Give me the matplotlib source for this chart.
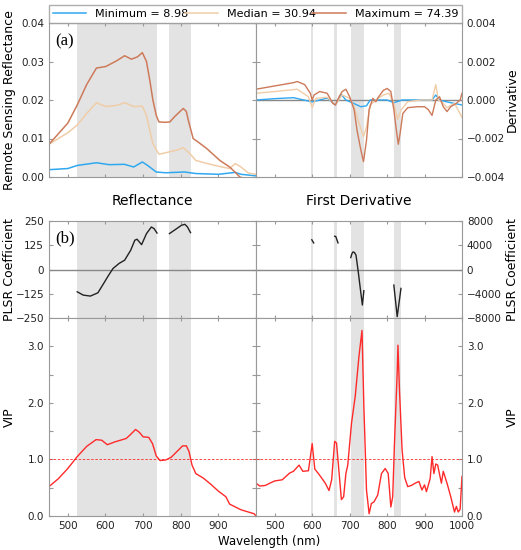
import numpy as np
import matplotlib
matplotlib.use("Agg")
import matplotlib.pyplot as plt

matplotlib.rcParams.update({
    "font.family": "DejaVu Sans",
    "font.size": 8,
    "axes.edgecolor": "#999999",
    "xtick.color": "#999999",
    "ytick.color": "#999999",
    "xtick.labelcolor": "#222222",
    "ytick.labelcolor": "#222222",
    "xtick.labelsize": 7.5,
    "ytick.labelsize": 7.5,
    "xtick.direction": "in",
    "ytick.direction": "in",
})

# ---------------------------------------------------------------------------
# Data
# ---------------------------------------------------------------------------
refl_wl = [450, 500, 525, 550, 576, 601, 630, 651, 669, 685, 698, 709, 718, 726, 735,
           742, 760, 771, 784, 800, 807, 815, 820, 833, 850, 869, 904, 930, 945,
           957, 975, 1000]
refl_max = [0.0085, 0.0140, 0.0187, 0.0240, 0.0283, 0.0287, 0.0302, 0.0315, 0.0306,
            0.0312, 0.0323, 0.0300, 0.0250, 0.0200, 0.0160, 0.0143, 0.0142, 0.0143,
            0.0157, 0.0172, 0.0178, 0.0170, 0.0148, 0.0100, 0.0088, 0.0074, 0.0043,
            0.0026, 0.0012, 0.0000, -0.0005, -0.0008]
refl_wl_med = [450, 500, 525, 550, 576, 601, 630, 651, 675, 698, 709, 718, 726, 742,
               760, 790, 807, 825, 840, 870, 900, 930, 945, 960, 980, 1000]
refl_med = [0.0085, 0.0115, 0.0135, 0.0165, 0.0193, 0.0183, 0.0186, 0.0193, 0.0183,
            0.0184, 0.0160, 0.0120, 0.0087, 0.0059, 0.0063, 0.0070, 0.0076, 0.0060,
            0.0043, 0.0035, 0.0028, 0.0022, 0.0035, 0.0026, 0.0010, 0.0007]
refl_wl_min = [450, 500, 525, 576, 610, 650, 675, 698, 712, 735, 760, 810, 840, 900,
               945, 960, 1000]
refl_min = [0.0019, 0.0022, 0.0030, 0.0037, 0.0032, 0.0033, 0.0026, 0.0039, 0.0030,
            0.0013, 0.0011, 0.0013, 0.0009, 0.0007, 0.0012, 0.0007, 0.0003]

deriv_wl = [450, 500, 550, 560, 580, 595, 600, 605, 620, 640, 655, 662, 672, 680, 690,
            700, 712, 720, 730, 737, 745, 752, 762, 770, 775, 790, 800, 810, 818, 825,
            830, 835, 842, 855, 880, 900, 910, 920, 930, 940, 950, 960, 970, 985, 995,
            1000]
deriv_max = [0.00056, 0.00073, 0.00090, 0.00096, 0.00080, 0.00035, 0.0, 0.00026,
             0.00044, 0.00035, -0.00017, -0.00026, 0.00017, 0.00044, 0.00056, 0.00017,
             -0.0005, -0.0016, -0.0026, -0.0032, -0.0021, -0.0005, 0.00009, -0.0001,
             0.00010, 0.0005, 0.0006, 0.00044, -0.0005, -0.0016, -0.0023, -0.0017,
             -0.0007, -0.0004, -0.00035, -0.00035, -0.0005, -0.0008, 0.0, 0.00017,
             -0.00035, -0.0006, -0.00035, -0.00017, 0.0, 0.00035]
deriv_wl_med = [450, 500, 560, 590, 600, 610, 640, 662, 680, 700, 712, 725, 737, 745,
                755, 770, 790, 805, 818, 828, 838, 855, 890, 920, 930, 937, 950, 960,
                980, 1000]
deriv_med = [0.00035, 0.00044, 0.00056, 0.00017, -0.0004, 0.00009, 0.00014, -0.00026,
             0.00026, 0.00009, -0.00035, -0.0012, -0.0019, -0.0014, -0.00026, 0.0,
             0.00026, 0.00035, -0.00017, -0.0010, -0.0005, -0.00009, 0.0, 0.0, 0.0008,
             0.0, -0.00017, -0.0004, -0.00017, -0.0009]
deriv_wl_min = [450, 500, 550, 600, 640, 662, 677, 690, 710, 730, 745, 755, 800, 818,
                840, 920, 930, 940, 960, 1000]
deriv_min = [0.0, 0.00007, 0.00012, -0.0001, 0.0001, -0.00026, 0.0003, 0.0, -0.00017,
             -0.00035, -0.0003, 0.0, 0.0, -0.00014, 0.0, 0.0, 0.00026, 0.0, -0.0001,
             -0.00026]

plsr_refl_wl1 = [525, 541, 560, 580, 598, 607, 620, 636, 651, 667, 678, 684, 696, 709,
                 722, 729, 737]
plsr_refl_1 = [-115, -132, -137, -120, -63, -34, 5, 31, 48, 99, 151, 156, 128, 185,
               219, 211, 188]
plsr_refl_wl2 = [770, 785, 802, 811, 818, 826]
plsr_refl_2 = [185, 205, 228, 233, 219, 190]

plsr_der_segs = [
    ([599, 602, 604], [4900, 4600, 4380]),
    ([660, 663, 666, 669], [5480, 5450, 4900, 4380]),
    ([703, 706, 709, 713, 717, 723, 729, 734, 738], [1970, 2600, 2900, 2800, 2360,
                                                      -380, -3400, -5860, -3500]),
    ([818, 827, 837], [-2570, -7780, -3120]),
]

vip_refl_wl = [450, 475, 500, 525, 550, 575, 590, 605, 625, 655, 665, 680, 690, 700,
               715, 725, 735, 745, 760, 775, 790, 805, 815, 822, 830, 840, 860, 880,
               900, 920, 930, 945, 960, 980, 995, 1000]
vip_refl = [0.52, 0.66, 0.84, 1.05, 1.23, 1.35, 1.34, 1.26, 1.31, 1.37, 1.43, 1.53,
            1.48, 1.40, 1.39, 1.28, 1.06, 0.98, 0.99, 1.04, 1.14, 1.24, 1.24, 1.14,
            0.90, 0.75, 0.67, 0.56, 0.44, 0.34, 0.21, 0.16, 0.11, 0.07, 0.04, 0.0]

vip_der_wl = [450, 460, 475, 490, 500, 520, 540, 550, 565, 575, 590, 600, 607, 620,
              635, 645, 652, 660, 665, 672, 678, 684, 690, 695, 705, 715, 725, 733,
              738, 745, 752, 758, 765, 775, 785, 795, 803, 810, 815, 820, 827, 829,
              833, 840, 847, 855, 865, 875, 885, 893, 900, 905, 915, 920, 925, 930,
              935, 945, 950, 960, 970, 980, 985, 990, 995, 1000]
vip_der = [0.58, 0.53, 0.54, 0.59, 0.62, 0.64, 0.76, 0.79, 0.90, 0.79, 0.80, 1.28,
           0.83, 0.72, 0.58, 0.45, 0.64, 1.32, 1.29, 0.75, 0.29, 0.34, 0.75, 0.90,
           1.64, 2.12, 2.83, 3.28, 1.94, 0.46, 0.04, 0.22, 0.25, 0.37, 0.75, 0.84,
           0.75, 0.16, 0.34, 1.34, 2.54, 3.02, 2.24, 1.17, 0.68, 0.52, 0.54, 0.58,
           0.61, 0.46, 0.55, 0.43, 0.66, 1.05, 0.75, 0.92, 0.90, 0.58, 0.79, 0.58,
           0.34, 0.07, 0.17, 0.07, 0.12, 0.70]

bands_refl = [(525, 738), (770, 828)]
bands_deriv = [(598, 602), (658, 667), (704, 738), (819, 838)]

legend_labels = ["Minimum = 8.98", "Median = 30.94", "Maximum = 74.39"]
c_min, c_med, c_max = "#2fa8f0", "#f0cda8", "#cd7a5a"
c_vip = "#ff2a2a"
c_band = "#e3e3e3"

# ---------------------------------------------------------------------------
# Layout
# ---------------------------------------------------------------------------
fig = plt.figure(figsize=(5.21, 5.5), dpi=100)
L, M, R = 49 / 521, 256 / 521, 462 / 521
W1, W2 = M - L, R - M


def fy(px):
    return 1 - px / 550


ax_a1 = fig.add_axes([L, fy(177), W1, fy(23) - fy(177)])
ax_a2 = fig.add_axes([M, fy(177), W2, fy(23) - fy(177)])
ax_b1 = fig.add_axes([L, fy(318), W1, fy(221) - fy(318)])
ax_b2 = fig.add_axes([M, fy(318), W2, fy(221) - fy(318)])
ax_c1 = fig.add_axes([L, fy(516), W1, fy(318) - fy(516)])
ax_c2 = fig.add_axes([M, fy(516), W2, fy(318) - fy(516)])

for ax in [ax_a1, ax_a2, ax_b1, ax_b2, ax_c1, ax_c2]:
    ax.set_xlim(450, 1000)
    ax.set_xticks([500, 600, 700, 800, 900, 1000])
    ax.tick_params(top=True, bottom=True, left=True, right=True, length=3, width=0.8)
    ax.tick_params(axis="x", length=2)

for ax in [ax_a1, ax_b1, ax_c1]:
    for lo, hi in bands_refl:
        ax.axvspan(lo, hi, color=c_band, lw=0, zorder=0)
    ax.yaxis.set_label_coords(-33 / 207, 0.5)
for ax in [ax_a2, ax_b2, ax_c2]:
    for lo, hi in bands_deriv:
        ax.axvspan(lo, hi, color=c_band, lw=0, zorder=0)
    ax.yaxis.tick_right()
    ax.yaxis.set_label_position("right")
    ax.tick_params(left=True, right=True)
    ax.yaxis.set_label_coords(1 + 44 / 206, 0.5)

# (a) reflectance
ax_a1.plot(refl_wl_min, refl_min, color=c_min, lw=1.1, label=legend_labels[0])
ax_a1.plot(refl_wl_med, refl_med, color=c_med, lw=1.1, label=legend_labels[1])
ax_a1.plot(refl_wl, refl_max, color=c_max, lw=1.1, label=legend_labels[2])
ax_a1.set_ylim(0, 0.04)
ax_a1.set_yticks([0, 0.01, 0.02, 0.03, 0.04])
ax_a1.set_yticklabels(["0.00", "0.01", "0.02", "0.03", "0.04"])
ax_a1.set_xticklabels([])
ax_a1.set_xlabel("Reflectance", fontsize=10, labelpad=9)
ax_a1.set_ylabel("Remote Sensing Reflectance", fontsize=9)
ax_a1.text(0.03, 0.93, "(a)", transform=ax_a1.transAxes, fontsize=12,
           family="Liberation Serif", va="top")

ax_a2.axhline(0, color="#888888", lw=1)
ax_a2.plot(deriv_wl_min, deriv_min, color=c_min, lw=1.0)
ax_a2.plot(deriv_wl_med, deriv_med, color=c_med, lw=1.0)
ax_a2.plot(deriv_wl, deriv_max, color=c_max, lw=1.0)
ax_a2.set_ylim(-0.004, 0.004)
ax_a2.set_yticks([-0.004, -0.002, 0, 0.002, 0.004])
ax_a2.set_yticklabels(["\u22120.004", "\u22120.002", "0.000", "0.002", "0.004"])
ax_a2.set_xticklabels([])
ax_a2.set_xlabel("First Derivative", fontsize=10, labelpad=9)
ax_a2.set_ylabel("Derivative", fontsize=9)

fig.legend(*ax_a1.get_legend_handles_labels(), loc="lower left",
           bbox_to_anchor=(L, fy(23), R - L, 20 / 550), mode="expand", ncol=3,
           fontsize=8, frameon=True, fancybox=False, edgecolor="#999999",
           borderaxespad=0, handlelength=3, borderpad=0.35)

# (b) PLSR coefficients
ax_b1.axhline(0, color="#888888", lw=1)
ax_b1.plot(plsr_refl_wl1, plsr_refl_1, color="#222222", lw=1.0)
ax_b1.plot(plsr_refl_wl2, plsr_refl_2, color="#222222", lw=1.0)
ax_b1.set_ylim(-250, 250)
ax_b1.set_yticks([-250, -125, 0, 125, 250])
ax_b1.set_yticklabels(["\u2212250", "\u2212125", "0", "125", "250"])
ax_b1.set_xticklabels([])
ax_b1.set_ylabel("PLSR Coefficient", fontsize=9)
ax_b1.text(0.03, 0.9, "(b)", transform=ax_b1.transAxes, fontsize=12,
           family="Liberation Serif", va="top")

ax_b2.axhline(0, color="#888888", lw=1)
for wl, val in plsr_der_segs:
    ax_b2.plot(wl, val, color="#222222", lw=1.0)
ax_b2.set_ylim(-8000, 8000)
ax_b2.set_yticks([-8000, -4000, 0, 4000, 8000])
ax_b2.set_yticklabels(["\u22128000", "\u22124000", "0", "4000", "8000"])
ax_b2.set_xticklabels([])
ax_b2.set_ylabel("PLSR Coefficient", fontsize=9)

# VIP
for ax, wl, val in [(ax_c1, vip_refl_wl, vip_refl), (ax_c2, vip_der_wl, vip_der)]:
    ax.plot(wl, val, color=c_vip, lw=1.0)
    ax.axhline(1.0, color=c_vip, lw=0.6, ls="--", dashes=(3, 2))
    ax.set_ylim(0, 3.5)
    ax.set_yticks([0, 0.5, 1, 1.5, 2, 2.5, 3])
    ax.set_yticklabels(["0.0", "", "1.0", "", "2.0", "", "3.0"])
    ax.set_ylabel("VIP", fontsize=9)
ax_c1.set_xticklabels(["500", "600", "700", "800", "900", ""])
ax_c2.set_xticklabels(["500", "600", "700", "800", "900", "1000"])
fig.text(269 / 521, fy(541), "Wavelength (nm)", ha="center", va="center",
         fontsize=8.5)

fig.savefig("out.png", dpi=100)
